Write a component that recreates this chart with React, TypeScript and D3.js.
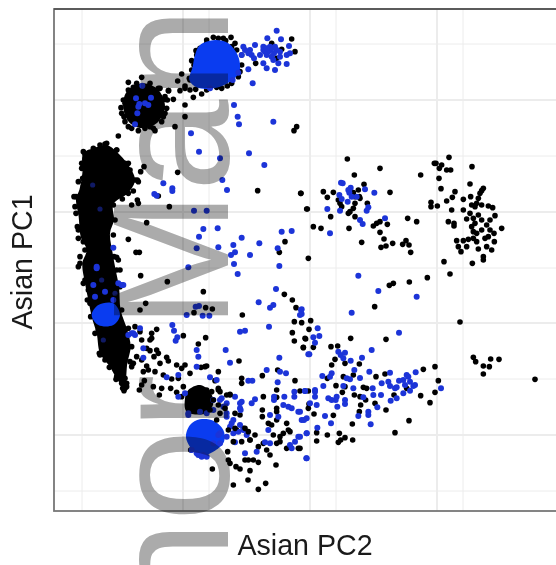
// Asian PC1 / PC2 scatter with a "nor Man" watermark over it
import React, { useEffect, useRef } from 'react';
import * as d3 from 'd3';

const svgWidth = 556;
const svgHeight = 565;
const panel = { left: 54, right: 556, top: 9, bottom: 511 };

type Pair = [number, number];

// PC units are arbitrary here, the original has no tick labels
const xMajor = [399, 780, 1161, 1543];
const xMinor = [96, 477, 858, 1239];
const yMajor = [300, 636, 969, 1305];
const yMinor = [132, 468, 804, 1137, 1473];

// solid parts of the clusters, where single points can't be told apart
const blackBand: Pair[] = [[100,460],[130,445],[170,435],[200,455],[235,495],[255,540],[235,578],[190,612],[192,660],[180,700],[188,760],[197,810],[207,860],[212,930],[232,990],[242,1040],[232,1090],[222,1165],[198,1132],[178,1098],[150,1060],[140,1000],[125,950],[115,900],[105,850],[97,790],[110,750],[92,710],[86,650],[78,595],[88,570],[97,520]];
const blackRound: Pair[] = [[230,275],[280,250],[325,270],[345,320],[320,370],[280,385],[240,370],[220,325]];
const blackLower: Pair[] = [[415,1170],[450,1155],[480,1175],[490,1210],[470,1240],[410,1235],[405,1195]];
const blueTop: Pair[] = [[450,135],[495,120],[535,130],[565,170],[568,215],[540,245],[490,265],[440,262],[418,240],[428,200],[435,165]];
const blueBand: Pair[] = [[125,945],[145,915],[190,910],[210,945],[190,975],[145,975]];
const blueLower: Pair[] = [[420,1275],[450,1258],[490,1262],[520,1290],[522,1325],[495,1352],[460,1365],[428,1350],[408,1312]];

const blackPoints: Pair[] = [
  [543,112],[527,122],[505,115],[470,130],[450,145],[438,152],[425,182],[432,195],[440,165],[555,130],[575,195],[570,215],[545,225],[532,258],[500,262],[455,282],[430,292],[437,268],[405,258],[395,222],[383,243],[390,272],[356,272],[418,235],
  [470,120],[490,112],[520,115],[545,140],[560,150],[575,165],[425,210],[420,240],[405,265],[420,270],[470,270],[515,265],[545,250],[565,230],
  [725,117],[735,155],[665,130],[695,148],[617,190],[680,175],
  [275,232],[235,247],[330,265],[355,272],[345,298],[370,298],[352,300],[345,340],[213,323],[222,350],[235,380],[285,385],[315,392],[300,380],[405,315],[405,350],[375,380],[205,408],[250,262],[335,320],[230,300],[340,350],[225,310],
  [235,270],[220,300],[215,340],[225,365],[260,250],[300,250],[325,265],[345,290],[350,325],[335,365],[310,385],[265,392],[245,385],
  [100,455],[95,490],[85,545],[72,590],[78,640],[85,690],[105,750],[90,790],[100,850],[112,900],[122,950],[135,1000],[148,1060],[178,1102],[198,1138],[222,1172],[230,1150],[240,1085],[245,1040],[235,985],[215,930],[210,860],[200,810],[192,770],[190,705],[195,660],[190,615],[235,580],[262,540],[235,490],[200,450],[170,430],[150,435],[130,445],
  [78,590],[75,620],[82,680],[85,715],[100,725],[90,770],[85,800],[105,840],[115,870],[120,910],[135,935],[145,990],[150,1065],[165,1080],[200,1130],[225,1165],[215,1150],[250,1090],[165,432],[135,450],[105,462],[200,450],[225,490],[240,510],[255,540],[265,545],[250,573],[95,505],[98,535],[100,560],
  [217,597],[245,615],[262,600],[265,610],[272,515],[282,500],[205,780],[200,772],[258,757],[268,757],[235,718],[290,668],[358,620],[325,588],[383,517],
  [740,380],[732,392],[623,572],[752,580],[770,627],[705,725],[688,757],
  [272,827],[352,845],[460,875],[210,810],[577,945],[703,883],[727,900],[738,923],[733,965],[727,998],[765,1015],[733,1023],[760,1042],[567,1083],[467,1013],[400,1007],[320,988],[305,1000],[305,1015],[445,1032],[453,1102],[470,1098],[287,910],[270,930],[487,927],[467,923],[432,938],
  [275,1020],[290,1045],[300,1052],[320,1050],[325,1060],[312,1070],[350,1072],[355,1083],[330,1090],[380,1095],[405,1095],[395,1105],[290,1098],[295,1110],[280,1115],[315,1115],[340,1125],[420,1120],[385,1135],[365,1137],[283,1142],[275,1155],[268,1170],[310,1160],[335,1165],[362,1165],[328,1185],[380,1177],[395,1190],[225,1135],[218,1165],[230,1160],[205,1130],[245,1100],[260,1070],[275,1080],[255,980],[270,995],[300,1020],[465,1100],[505,1115],[400,1160],[505,1165],[495,1142],[510,1175],[540,1183],[575,1135],[575,1150],[637,1127],[683,1110],[735,1142],[680,1170],[680,1192],[640,1190],[637,1230],[637,1250],[680,1225],
  [422,1350],[487,1407],[533,1355],[535,1380],[540,1390],[558,1400],[570,1407],[550,1455],[594,1440],[625,1468],[647,1450],[678,1395],[600,1412],[595,1380],[585,1380],[610,1380],[625,1387],[575,1325],[600,1320],[615,1305],[580,1285],[560,1290],[640,1330],[625,1340],[650,1350],[660,1365],[680,1330],[690,1325],[690,1310],[670,1305],[655,1270],[665,1275],[680,1260],[710,1270],[715,1290],[700,1300],[720,1295],[710,1345],[745,1345],[680,1235],[570,1245],
  [892,477],[990,505],[913,525],[942,553],[1020,577],[753,580],[820,575],[832,592],[850,577],[925,570],[910,578],[928,590],[930,595],[915,590],[870,610],[865,600],[875,620],[915,610],[910,625],[900,635],[895,640],[915,650],[952,610],[772,627],[842,650],[790,680],[813,685],[897,685],[1073,655],[1100,665],[970,678],[980,670],[990,665],[1012,673],[990,697],[1002,717],[1028,730],[993,742],[1008,738],[935,727],[1058,733],[1068,722],[1077,735],[1082,757],[775,775],
  [1197,472],[1153,490],[1158,490],[1175,495],[1168,505],[1190,510],[1202,510],[1112,525],[1266,500],[1167,535],[1260,552],[1173,566],[1215,575],[1207,592],[1190,603],[1240,598],[1262,590],[1300,565],[1295,572],[1290,580],[1285,595],[1280,610],[1143,607],[1143,620],[1162,618],[1205,630],[1240,630],[1265,615],[1275,620],[1295,615],[1315,618],[1328,623],[1335,647],[1260,640],[1285,645],[1250,657],[1270,655],[1295,660],[1320,660],[1275,670],[1265,680],[1310,675],[1320,690],[1355,685],[1195,665],[1212,670],[1212,678],[1270,695],[1295,690],[1280,700],[1315,710],[1332,700],[1333,725],[1220,722],[1240,722],[1255,718],[1270,715],[1280,725],[1305,715],[1225,740],[1250,740],[1285,747],[1310,740],[1325,750],[1233,755],[1300,770],[1182,785],[1267,790],[1300,780],
  [1200,822],[1132,833],[1078,846],[1030,850],[1018,856],[974,920],[1230,966],[1270,1072],[1277,1085],[1322,1077],[1347,1078],[1300,1098],[1318,1100],[1300,1122],[1455,1138],[755,968],[782,962],[777,988],[767,1017],[760,1043],[790,1042],[843,1040],[863,1038],[902,1015],[1008,1018],[855,1078],[885,1090],[928,1092],[845,1095],[832,1135],[880,1130],[910,1125],[978,1130],[1005,1122],[1120,1108],[1155,1100],[1165,1142],[1155,1177],[1112,1187],[1140,1208],[1008,1230],[1077,1262],[1035,1298],[907,1272],[850,1246],[868,1300],[832,1305],[800,1298],[800,1323],[865,1327],[872,1320],[885,1313],[908,1320],[775,1173],[750,1173],[858,1157],[885,1160],[877,1177],[940,1162],[950,1165],[913,1185],[930,1190],[947,1200],[975,1210],[932,1215],[928,1235],[1032,1185],[1070,1165],[775,1225],[792,1242],[777,1212],[750,1345],
];

const bluePoints: Pair[] = [
  [680,92],[652,115],[693,118],[717,138],[615,135],[600,150],[580,140],[575,165],[605,165],[612,175],[640,150],[660,140],[680,150],[650,165],[665,170],[690,170],[710,165],[720,160],[640,190],[650,205],[675,210],[685,190],[710,192],[670,180],[595,208],[608,250],[565,218],[548,240],[480,265],[655,155],[630,165],[640,140],
  [645,155],[660,150],[672,160],[690,155],[665,145],[650,145],[675,140],[585,150],[595,160],
  [277,257],[258,295],[303,293],[285,310],[265,320],[262,340],[268,312],[255,373],[295,315],
  [552,315],[563,350],[567,373],[670,365],[423,400],[447,455],[510,475],[597,460],[643,495],[517,540],[531,570],[340,550],[367,565],[367,573],[313,582],[320,587],[432,632],[470,632],[460,687],[503,685],[447,710],[575,713],[695,695],[725,693],[505,742],[550,735],[628,730],[683,745],[440,745],[555,757],[543,765],[600,765],[190,743],
  [415,802],[552,792],[563,822],[688,798],[678,867],[626,907],[660,923],[670,915],[753,930],[750,945],[410,945],[458,947],[478,947],[437,920],[447,918],[367,975],[372,992],[382,1012],[377,1022],[570,995],[585,992],[657,980],[280,1045],[280,1073],[527,1050],[540,1088],[688,1073],[440,1050],[445,1070],[440,1100],[650,1110],[690,1115],[708,1120],[683,1147],[595,1142],[607,1142],[350,1132],[385,1125],[480,1132],[500,1140],[775,1063],
  [530,1240],[550,1260],[520,1220],[490,1230],[540,1280],[530,1310],[510,1330],[490,1200],[515,1195],[555,1190],[570,1210],[572,1230],[415,1245],[470,1370],[455,1370],[440,1360],[425,1350],[510,1300],[550,1300],[570,1275],[555,1327],[580,1290],[585,1360],[620,1355],[645,1327],[660,1330],[615,1198],[605,1210],[672,1190],[672,1200],[703,1190],[733,1175],[733,1190],[765,1173],[700,1215],[715,1220],[725,1225],[745,1235],[755,1260],[770,1255],[660,1245],[685,1250],[655,1290],[770,1300],[745,1310],[735,1325],[720,1335],[725,1345],[769,1375],[590,1305],
  [450,1235],[470,1240],[510,1200],[530,1210],[575,1205],[570,1225],[530,1250],[545,1270],[565,1295],[505,1305],[490,1330],[460,1365],[445,1365],[405,1180],[385,1190],[415,1240],
  [140,800],[215,855],[135,890],[165,875],[140,805],[205,850],[220,855],[130,855],[190,900],[250,1000],[245,1000],[255,1005],[270,985],[235,1005],
  [873,548],[878,550],[902,563],[945,568],[973,578],[898,578],[868,585],[875,597],[893,605],[905,590],[920,590],[832,627],[870,632],[955,622],[950,632],[930,660],[938,672],[1005,655],[840,700],[895,570],
  [925,827],[985,873],[1100,890],[905,938],[1047,998],[755,928],[755,942],[803,985],[808,1008],[790,1012],[795,1028],[778,1063],[965,1050],[865,1055],[872,1065],[885,1058],[880,1075],[902,1082],[936,1073],[845,1120],[840,1130],[817,1128],[913,1110],[958,1115],[1020,1118],[930,1134],[900,1138],[890,1135],[1097,1117],[1070,1125],[1075,1130],[1047,1142],[1060,1140],[1065,1155],[1080,1145],[1095,1155],[1090,1158],[995,1150],[1015,1145],[1020,1158],[1035,1165],[1040,1162],[1173,1165],[1080,1172],[1060,1180],[1040,1195],[1022,1202],[993,1185],[968,1165],[970,1185],[940,1192],[910,1165],[880,1158],[820,1158],[795,1170],[765,1173],[795,1190],[835,1195],[845,1200],[857,1200],[860,1190],[885,1200],[885,1212],[862,1220],[800,1215],[780,1210],[825,1248],[843,1270],[802,1283],[770,1300],[762,1260],[750,1235],[750,1310],[770,1375],[925,1248],[955,1235],[955,1245],[962,1273],[982,1222],[795,1175],
];

// blue points that sit under the black band and only show through faintly
const fadedBluePoints: Pair[] = [[128,555],[150,627],[155,840],[195,880],[160,1020]];

// black points plotted after the blue ones, mixed into the lower cluster
const blackOnTop: Pair[] = [[470,1170],[485,1175],[505,1170],[490,1200],[470,1210],[480,1230],[510,1240],[530,1185],[540,1185],[500,1260],[535,1290],[555,1285],[585,1285],[595,1295],[600,1320],[550,1325],[525,1225],[555,1240],[505,1215]];

const xScale = d3.scaleLinear().domain([12, 1518]).range([panel.left, panel.right]);
const yScale = d3.scaleLinear().domain([27, 1533]).range([panel.top, panel.bottom]);

const blob = d3.line<Pair>()
  .x(d => xScale(d[0]))
  .y(d => yScale(d[1]))
  .curve(d3.curveCatmullRomClosed);

export default function App() {
  const ref = useRef<SVGSVGElement>(null);

  useEffect(() => {
    const svg = d3.select(ref.current);
    svg.selectAll('*').remove();
    const font = '"Liberation Sans", Arial, sans-serif';

    const grid = svg.append('g');
    const gridLines = (vals: number[], w: number) => {
      grid.append('g').selectAll('line').data(vals).enter().append('line')
        .attr('x1', d => xScale(d)).attr('x2', d => xScale(d))
        .attr('y1', panel.top).attr('y2', panel.bottom)
        .attr('stroke', '#ececec').attr('stroke-width', w);
    };
    const gridLinesY = (vals: number[], w: number) => {
      grid.append('g').selectAll('line').data(vals).enter().append('line')
        .attr('x1', panel.left).attr('x2', panel.right)
        .attr('y1', d => yScale(d)).attr('y2', d => yScale(d))
        .attr('stroke', '#ececec').attr('stroke-width', w);
    };
    gridLines(xMinor, 1);
    gridLinesY(yMinor, 1);
    gridLines(xMajor, 2);
    gridLinesY(yMajor, 2);

    const marks = svg.append('g').style('filter', 'blur(0.35px)');
    const dots = (pts: Pair[], r: number, color: string, opacity = 1) => {
      marks.append('g').selectAll('circle').data(pts).enter().append('circle')
        .attr('cx', d => xScale(d[0])).attr('cy', d => yScale(d[1]))
        .attr('r', r).attr('fill', color).attr('opacity', opacity);
    };
    const core = (pts: Pair[], color: string) => {
      marks.append('path').attr('d', blob(pts)).attr('fill', color);
    };

    [blackBand, blackRound, blackLower].forEach(p => core(p, '#000'));
    dots(blackPoints, 2.8, '#000');
    dots(fadedBluePoints, 2.6, '#1a2ba8', 0.6);
    [blueTop, blueBand, blueLower].forEach(p => core(p, '#0a3cf0'));
    dots(bluePoints, 3, '#1c34d8');
    dots(blackOnTop, 2.8, '#000');

    // panel border, the top edge came out darker than the others
    svg.append('rect')
      .attr('x', panel.left).attr('y', panel.top)
      .attr('width', panel.right - panel.left + 5).attr('height', panel.bottom - panel.top)
      .attr('fill', 'none').attr('stroke', '#777').attr('stroke-width', 1.8);
    svg.append('line')
      .attr('x1', panel.left).attr('x2', panel.right)
      .attr('y1', panel.top).attr('y2', panel.top)
      .attr('stroke', '#333').attr('stroke-width', 1);

    svg.append('text')
      .attr('x', 305).attr('y', 555)
      .attr('text-anchor', 'middle')
      .attr('font-family', font).attr('font-size', 28.6)
      .attr('fill', '#1a1a1a')
      .text('Asian PC2');
    svg.append('text')
      .attr('transform', 'translate(32,262) rotate(-90)')
      .attr('text-anchor', 'middle')
      .attr('font-family', font).attr('font-size', 28.6)
      .attr('fill', '#1a1a1a')
      .text('Asian PC1');

    // watermark runs bottom to top and darkens whatever is under it
    svg.append('text')
      .attr('transform', 'translate(228,613) rotate(-90)')
      .attr('font-family', font).attr('font-size', 165)
      .attr('fill', '#ababab')
      .style('mix-blend-mode', 'multiply')
      .style('white-space', 'pre')
      .text('nor Man');
  }, []);

  return (
    <svg
      ref={ref}
      width={svgWidth}
      height={svgHeight}
      style={{ position: 'absolute', left: 0, top: 0, background: '#fff' }}
    />
  );
}
